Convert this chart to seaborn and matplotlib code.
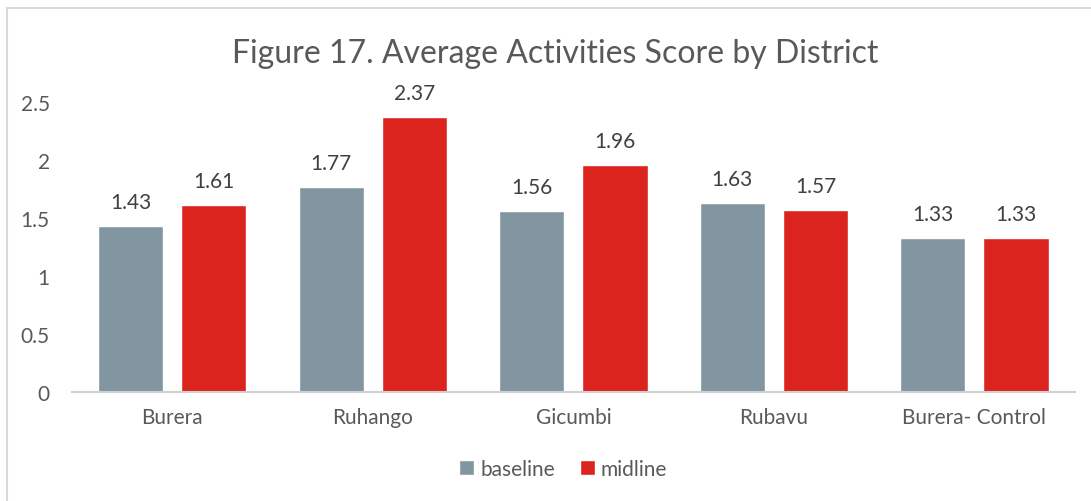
import matplotlib.pyplot as plt
import seaborn as sns
import pandas as pd
from matplotlib.patches import Rectangle

districts = ['Burera', 'Ruhango', 'Gicumbi', 'Rubavu', 'Burera- Control']
baseline = [1.43, 1.77, 1.56, 1.63, 1.33]
midline = [1.61, 2.37, 1.96, 1.57, 1.33]
series = ['baseline', 'midline']
colors = ['#8196A1', '#DC241F']

df = pd.DataFrame({
    'district': districts * 2,
    'series': ['baseline'] * len(districts) + ['midline'] * len(districts),
    'score': baseline + midline,
})

sns.set_style('white')
plt.rcParams['font.family'] = ['Lato', 'DejaVu Sans']
text_color = '#595959'

fig = plt.figure(figsize=(10.91, 5.02), dpi=100)
ax = fig.add_axes([0.066, 0.217, 0.919, 0.578])

sns.barplot(data=df, x='district', y='score', hue='series', palette=colors,
            width=0.83, gap=0.217, ax=ax, errorbar=None, saturation=1)

# value labels above bars
for cont in ax.containers:
    ax.bar_label(cont, fmt='%.2f', padding=10, fontsize=15, color='#404040')

ax.set_ylim(0, 2.5)
ax.set_yticks([0, 0.5, 1, 1.5, 2, 2.5])
ax.set_yticklabels(['0', '0.5', '1', '1.5', '2', '2.5'])
ax.set_xlim(-0.5, len(districts) - 0.5)
ax.set_xlabel('')
ax.set_ylabel('')
for s in ['top', 'right', 'left']:
    ax.spines[s].set_visible(False)
ax.spines['bottom'].set_color('#d0d0d0')
ax.spines['bottom'].set_linewidth(1.5)
ax.tick_params(axis='both', length=0, labelsize=15, colors=text_color)
ax.tick_params(axis='y', pad=16)
ax.tick_params(axis='x', pad=11)

fig.text(0.509, 0.893, 'Figure 17. Average Activities Score by District',
         ha='center', va='center', fontsize=23, color=text_color)

ax.legend(loc='center', bbox_to_anchor=(0.49, -0.265), ncol=2, frameon=False,
          fontsize=15, labelcolor=text_color, handlelength=0.7, handleheight=0.7,
          handletextpad=0.3, columnspacing=1.2)

fig.patches.append(Rectangle((7 / 1091, -0.01), 1.1, 1 - 9 / 502 + 0.01,
                             transform=fig.transFigure, fill=False,
                             edgecolor='#d9d9d9', linewidth=1.5))

plt.savefig('out.png', dpi=100)
